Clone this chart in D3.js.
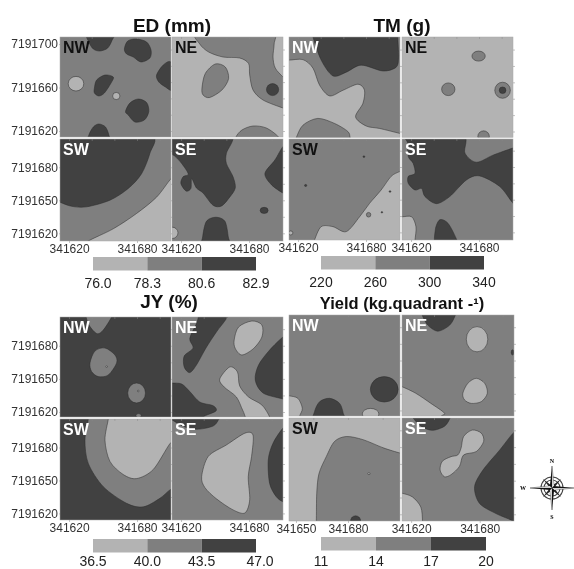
<!DOCTYPE html>
<html>
<head>
<meta charset="utf-8">
<script src="https://cdn.jsdelivr.net/npm/d3@7"></script>
<style>
  html, body { margin: 0; padding: 0; background: #fff; overflow: hidden; }
  svg { display: block; filter: blur(0.55px); }
  text { font-family: "Liberation Sans", Arial, sans-serif; }
  .tick text { font-size: 12px; fill: #333; }
</style>
</head>
<body>
<div id="chart"></div>
<script>
// every region: [level, outline] or [level, cx, cy, rx, ry] for the round spots
// outlines are in percent of the quadrant, measured from its NW corner
var levelColors = ['#b3b3b3', '#7f7f7f', '#414141'];

var edLegend = [76.0, 78.3, 80.6, 82.9];
var tmLegend = [220, 260, 300, 340];
var jyLegend = [36.5, 40.0, 43.5, 47.0];
var yieldLegend = [11, 14, 17, 20];

var edNW = [
  [2, [[25,-3],[26,5],[30,12],[36,14],[43,11],[47,3],[48,-3]]],
  [2, [[58,12],[61,4],[69,2],[78,5],[82,13],[81,21],[73,25],[66,20],[60,17]]],
  [2, [[87,38],[93,28],[100,25],[105,40],[101,53],[95,50],[89,45]]],
  [2, [[31,51],[33,43],[40.5,38],[48,40],[46,46],[40,56],[35,59],[31,56]]],
  [2, [[59,74.5],[63,66],[70.5,62],[78,65.5],[80,74.5],[76,83],[67.5,85],[61.5,78]]],
  [2, [[26,98],[30,90],[35,87],[41,90],[44,98],[44,104],[26,104]]],
  [0, 14.4, 46.7, 7, 7.3],
  [0, 50.7, 59, 3.3, 3.6]
];
var edNE = [
  [1, [[22,-4],[25,7],[33,15],[46,20],[61,21],[69,26.5],[70,38],[73,53],[82,63],[100,71],[105,72],[105,45],[100,40],[93,31],[91,20],[92,7],[91,-4],[60,-6]]],
  [1, [[27,51],[30,36.5],[39,27],[48,30],[51,41.5],[45,53],[34,60.5],[28,58]]],
  [2, 90.6, 52.6, 5.5, 6],
  [1, [[57.6,100],[63,93],[73,89],[85,91],[96,100],[96,106],[58,106]]]
];
var edSW = [
  [2, [[83,-3],[81,14],[73.5,34],[61.5,48.5],[45,60],[24,66.5],[10.5,66],[0,62],[-5,60],[-5,-5],[40,-8]]],
  [0, [[100,39],[87,57],[69,73],[48,88],[25.5,100],[24,104],[105,104],[105,38]]]
];
var edSE = [
  [2, [[54,-3],[49,14],[49,24],[55,37],[57,48],[52,57],[44.7,65.6],[37,65],[28,53],[22,48],[17.7,38.7],[17,48.5],[12.6,51],[8,43.6],[10,37],[14.7,34.4],[8.7,24],[2.7,17],[0,15],[-5,10],[-5,-5],[25,-6]]],
  [2, [[100,7.5],[92.7,20.6],[83.7,33.8],[89.7,45],[100,53],[106,55],[106,5]]],
  [2, 83, 70, 3.6, 3],
  [2, [[27.6,96],[31,80.7],[39.6,76.7],[47.7,80.7],[50.7,96],[51,105],[28,105]]],
  [0, 0, 92, 5.4, 5.6]
];

var tmNW = [
  [1, [[0,23],[12.6,22.5],[21.6,31],[27.6,48],[36.6,58.6],[48.6,53],[62,47],[68,53],[66.6,66],[60,79.5],[69.6,88.6],[81.6,91],[100,96],[106,98],[106,-5],[-5,-5],[-5,22]]],
  [2, [[21.6,0],[29,23],[39.6,38.7],[51.6,35],[65,28],[84.6,33.8],[96.6,30],[98.7,20],[98,0],[98,-5],[22,-5]]],
  [1, [[6.6,100],[12.6,87.7],[26,81],[41,86],[53,94],[55,100],[56,106],[5,106]]]
];
var tmNE = [
  [1, 69, 19, 6, 5],
  [1, 41.7, 52, 6, 6.3],
  [1, 90.6, 53, 7, 8],
  [2, 90.6, 53, 3, 3.3],
  [1, 73.5, 99, 5.2, 5.6]
];
var tmSW = [
  [0, [[99.6,32.3],[92,37],[83,50.5],[72.6,63.7],[63.6,77],[51.6,91.7],[39.6,86.8],[29,86.8],[23,100],[22,106],[106,106],[106,30]]],
  [1, 71.7, 75, 2, 2.3],
  [2, 15, 46, 1, 1],
  [2, 67.5, 17.5, 0.8, 0.8],
  [2, 91, 52, 0.8, 0.8],
  [2, 83.7, 72.6, 0.7, 0.7],
  [0, 1.5, 93, 2, 2]
];
var tmSE = [
  [2, [[54,-5],[56.7,14],[67,23],[82,16],[99.6,9],[106,7],[106,68],[99.6,63],[88,47],[70,36.6],[58,40.6],[43,57],[31,64],[20.7,57],[17.7,49],[11.7,50.5],[5.7,44],[5.7,37],[11.7,34],[10,24],[5.7,17.5],[5,4],[5,-5]]],
  [0, [[0,77],[8.7,77],[12.6,87],[11.7,100],[11,106],[-5,106],[-5,76]]],
  [2, [[30,90],[34,80],[41.4,83.4],[48.6,98],[50,106],[31,106]]]
];

var jyNW = [
  [1, [[25.5,6.6],[33,16.5],[39,13],[46.5,0],[47,-5],[25,-5]]],
  [1, [[27,46],[31.5,34],[40.5,31],[49.5,38],[51,46],[43.5,58],[34.5,59.6],[28.5,54.6]]],
  [0, 42, 49.6, 0.8, 0.8],
  [1, 69, 76, 8, 10],
  [0, 70.5, 74, 0.8, 0.8],
  [1, 70.8, 98.6, 2.4, 2]
];
var jyNE = [
  [2, [[49,1.6],[50,-5],[24,-5],[23.7,0],[22,6.6],[16,21.5],[19,31],[11,39],[11,50],[16,55.6],[22,48],[30.6,31],[40,15]]],
  [0, [[56,23],[60,10],[72,4],[81,8],[81,20],[73.5,31.5],[63,38],[57,31.5]]],
  [2, [[100,20],[88,33],[78,48],[75,63],[82,76],[100,82],[106,84],[106,18]]],
  [0, [[43,62],[52,50],[59,55],[61,69],[69,80],[81,88],[88,100],[88,106],[70,106],[64,94],[58,80],[47,70]]],
  [2, [[0,66],[8.7,67],[16,74.5],[25,85],[37,88.7],[39.6,94],[28,100],[28,106],[-5,106],[-5,65]]]
];
var jySW = [
  [1, [[25.5,0],[22.5,21],[25.5,44],[39,67],[60,83.5],[75,87],[90,78.5],[99.3,70],[106,68],[106,-5],[25,-5]]],
  [0, [[43.5,0],[40.5,21],[45,42],[57,55],[69,59],[84,50],[99.3,24],[106,20],[106,-5],[43,-5]]]
];
var jySE = [
  [2, [[41.7,1],[37,7],[25,10],[14.7,9],[4,3.6],[-3,-5],[42,-5]]],
  [0, [[26.7,57],[32.7,37],[49,25.7],[65.7,14],[73,16],[71.7,37],[68.7,57],[70,80],[65.7,93],[55,90],[40,79],[29.7,68]]],
  [2, [[100,9],[91,24],[86.7,40.6],[88,64],[94,77],[100,82],[106,84],[106,7]]]
];

var yieldNW = [
  [0, [[0,80],[8,82.5],[12,92.4],[9.6,100],[9,106],[-5,106],[-5,79]]],
  [2, [[23,95.7],[27.6,85.8],[36.6,82.5],[45.6,87.5],[49,97.7],[50,106],[23,106]]],
  [2, 85.8, 73.6, 12.5, 12.6],
  [0, 73.5, 98, 7.5, 5.5]
];
var yieldNE = [
  [2, [[18,0],[23,10],[32,16],[42.6,10],[47.7,0],[48,-5],[18,-5]]],
  [0, 67, 24, 9.6, 12.5],
  [0, [[54.3,77.5],[58.8,67.6],[66.3,62.7],[73.8,67.6],[76.2,77.5],[70.8,85.8],[61.8,87.5],[55.8,84]]],
  [2, 98.7, 37, 1.2, 2.6],
  [0, [[0,71],[12.3,77.5],[25.8,87.5],[37.8,97],[35,100],[30,106],[-5,106],[-5,70]]]
];
var yieldSW = [
  [1, [[100,34],[85,29],[66.6,21],[51.6,18],[41,22.8],[33.6,37.5],[27,54],[25,73],[24.6,100],[24,106],[106,106],[106,35]]],
  [2, 60, 100, 4.5, 5],
  [0, 72, 54, 1, 1]
];
var yieldSE = [
  [2, [[10,0],[17,8],[27,12],[38,8],[43,0],[44,-5],[10,-5]]],
  [0, [[34,50.5],[36,42],[43.8,37.5],[49.8,35.9],[52.8,29],[55,18],[62.7,11.7],[70.8,14.7],[72.9,22.8],[66.3,32.6],[55,35.9],[51.3,47],[43.8,55],[37.8,57]]],
  [2, [[99.3,14.7],[87.3,31],[72.3,50.5],[64.8,66.8],[69.3,83],[84.3,93],[99.3,100],[106,106],[106,12]]],
  [0, [[0,73],[9.3,76.6],[16.8,86.4],[18.3,100],[18,106],[-5,106],[-5,72]]]
];

var northTicksTop = [7191700, 7191660, 7191620];
var northTicks = [7191680, 7191650, 7191620];
var eastTicks = [341620, 341680];
var eastTicksYield = [341650, 341680];
var compassLetters = ['N', 'W', 'S'];

var width = 574, height = 569;
var svg = d3.select('#chart').append('svg')
    .attr('width', width)
    .attr('height', height);

var clipCount = 0;

var drawQuadrant = function(q) {
  var g = svg.append('g');
  var x = d3.scaleLinear().domain([0, 100]).range([q.left, q.right]);
  var y = d3.scaleLinear().domain([0, 100]).range([q.top, q.bottom]);
  var clipId = 'clip' + (clipCount++);

  g.append('clipPath').attr('id', clipId)
    .append('rect')
      .attr('x', q.left).attr('y', q.top)
      .attr('width', q.right - q.left).attr('height', q.bottom - q.top);

  var body = g.append('g').attr('clip-path', 'url(#' + clipId + ')');
  body.append('rect')
      .attr('x', q.left).attr('y', q.top)
      .attr('width', q.right - q.left).attr('height', q.bottom - q.top)
      .attr('fill', levelColors[q.base]);

  var outline = d3.line()
      .x(function(d) { return x(d[0]); })
      .y(function(d) { return y(d[1]); })
      .curve(d3.curveCardinalClosed.tension(0.1));

  q.regions.forEach(function(r) {
    if (typeof r[1] === 'number') {
      body.append('ellipse')
          .attr('cx', x(r[1])).attr('cy', y(r[2]))
          .attr('rx', x(r[3]) - x(0)).attr('ry', y(r[4]) - y(0))
          .attr('fill', levelColors[r[0]])
          .attr('stroke', '#2a2a2a').attr('stroke-width', 0.5);
    } else {
      body.append('path')
          .attr('d', outline(r[1]))
          .attr('fill', levelColors[r[0]])
          .attr('stroke', '#2a2a2a').attr('stroke-width', 0.5);
    }
  });

  // border and the faint minor ticks round the quadrant
  g.append('rect')
      .attr('x', q.left).attr('y', q.top)
      .attr('width', q.right - q.left).attr('height', q.bottom - q.top)
      .attr('fill', 'none').attr('stroke', '#a8a8a8').attr('stroke-width', 0.5);

  var east = d3.scaleLinear().domain(q.eastDomain).range([q.left, q.right]);
  var north = d3.scaleLinear().domain(q.northDomain).range([q.bottom, q.top]);
  var minorE = d3.range(341620, 341711, 20);
  var minorN = d3.range(7191620, 7191705, 15);

  var faint = function(sel) {
    sel.select('.domain').remove();
    sel.selectAll('line').attr('stroke', '#8a8a8a').attr('stroke-width', 0.5);
  };
  g.append('g').attr('transform', 'translate(0,' + q.top + ')')
      .call(d3.axisTop(east).tickValues(minorE.filter(function(d) { return d >= q.eastDomain[0]; })).tickSize(-2).tickFormat(''))
      .call(faint);
  g.append('g').attr('transform', 'translate(' + q.right + ',0)')
      .call(d3.axisRight(north).tickValues(minorN).tickSize(2).tickFormat(''))
      .call(faint);

  if (q.northLabels) {
    g.append('g').attr('transform', 'translate(' + q.left + ',0)')
        .call(d3.axisLeft(north).tickValues(q.northLabels).tickSize(1).tickPadding(1).tickFormat(d3.format('d')))
        .call(faint);
  }
  if (q.eastLabels) {
    g.append('g').attr('transform', 'translate(0,' + q.bottom + ')')
        .call(d3.axisBottom(east).tickValues(q.eastLabels).tickSize(2).tickPadding(1).tickFormat(d3.format('d')))
        .call(faint);
  }

  svg.append('text')
      .attr('x', q.left + 3)
      .attr('y', q.top + 16)
      .attr('font-size', 16)
      .attr('font-weight', 'bold')
      .attr('fill', q.labelColor)
      .text(q.name);
};

var drawLegend = function(values, left, right, top, labelY, labelX) {
  var scale = d3.scaleLinear()
      .domain([values[0], values[values.length - 1]])
      .range([left, right]);
  var g = svg.append('g');
  d3.pairs(values).forEach(function(p, i) {
    g.append('rect')
        .attr('x', scale(p[0])).attr('y', top)
        .attr('width', scale(p[1]) - scale(p[0])).attr('height', 13.5)
        .attr('fill', levelColors[i]);
  });
  g.selectAll('text').data(values).enter().append('text')
      .attr('x', function(d, i) { return scale(d) + labelX[i]; })
      .attr('y', labelY)
      .attr('text-anchor', 'middle')
      .attr('font-size', 14)
      .attr('fill', '#222')
      .text(function(d) { return d3.format(values[0] % 1 || values[1] % 1 ? '.1f' : 'd')(d); });
};

var drawMap = function(m) {
  var names = ['NW', 'NE', 'SW', 'SE'];
  var regions = m.regions;
  names.forEach(function(name, i) {
    var col = i % 2, row = i < 2 ? 0 : 1;
    drawQuadrant({
      name: name,
      base: m.bases[i],
      regions: regions[i],
      labelColor: m.labelColors[i],
      left: m.cols[col][0], right: m.cols[col][1],
      top: m.rows[row][0], bottom: m.rows[row][1],
      eastDomain: (m.eastDomains && m.eastDomains[i]) || [341612, 341710],
      northDomain: m.norths[row],
      northLabels: col === 0 && m.northLabels ? m.northLabels[row] : null,
      eastLabels: row === 1 ? m.eastLabels[col] : null
    });
  });
  svg.append('text')
      .attr('x', m.titleX).attr('y', m.titleY)
      .attr('text-anchor', 'middle')
      .attr('font-size', m.titleSize)
      .attr('font-weight', 'bold')
      .attr('fill', '#111')
      .text(m.title);
};

drawMap({
  title: 'ED (mm)', titleX: 172, titleY: 32, titleSize: 19,
  cols: [[60, 171], [172, 283]], rows: [[37, 137], [139, 241]],
  norths: [[7191614.5, 7191706.5], [7191613, 7191705.7]],
  northLabels: [northTicksTop, northTicks],
  eastLabels: [eastTicks, eastTicks],
  bases: [1, 0, 1, 1],
  labelColors: ['#111', '#111', '#fff', '#fff'],
  regions: [edNW, edNE, edSW, edSE]
});
drawLegend(edLegend, 93, 256, 257, 288, [5, 0, 0, 0]);

drawMap({
  title: 'TM (g)', titleX: 402, titleY: 32, titleSize: 19,
  cols: [[289, 400], [402, 513]], rows: [[37, 137.5], [139, 240]],
  norths: [[7191614.5, 7191706.5], [7191613, 7191705.7]],
  northLabels: null,
  eastLabels: [eastTicks, eastTicks],
  bases: [0, 0, 1, 1],
  labelColors: ['#fff', '#111', '#111', '#fff'],
  regions: [tmNW, tmNE, tmSW, tmSE]
});
drawLegend(tmLegend, 321, 484, 256, 287, [0, 0, 0, 0]);

drawMap({
  title: 'JY (%)', titleX: 169, titleY: 308, titleSize: 19,
  cols: [[60, 171], [172, 283]], rows: [[317, 417], [419, 520]],
  norths: [[7191615.5, 7191706], [7191614, 7191706]],
  northLabels: [northTicks, northTicks],
  eastLabels: [eastTicks, eastTicks],
  bases: [2, 1, 2, 1],
  labelColors: ['#fff', '#fff', '#fff', '#fff'],
  regions: [jyNW, jyNE, jySW, jySE]
});
drawLegend(jyLegend, 93, 256, 539, 565.8, [0, 0, 0, 4]);

drawMap({
  title: 'Yield (kg.quadrant -\u00b9)', titleX: 402, titleY: 309, titleSize: 16.5,
  cols: [[289, 400], [402, 514]], rows: [[315, 416], [418, 521]],
  norths: [[7191615, 7191706], [7191614, 7191706]],
  northLabels: null,
  eastDomains: [[341646, 341710], null, [341646, 341710], null],
  eastLabels: [eastTicksYield, eastTicks],
  bases: [1, 1, 0, 1],
  labelColors: ['#fff', '#fff', '#111', '#fff'],
  regions: [yieldNW, yieldNE, yieldSW, yieldSE]
});
drawLegend(yieldLegend, 321, 486, 537, 565.8, [0, 0, 0, 0]);

// compass rose
var compass = svg.append('g').attr('transform', 'translate(552,488)');
var spike = d3.lineRadial()
    .angle(function(d) { return d[0] * Math.PI / 180; })
    .radius(function(d) { return d[1]; });
[8, 11].forEach(function(r) {
  compass.append('circle').attr('r', r)
      .attr('fill', 'none').attr('stroke', '#444').attr('stroke-width', 1.1);
});
[45, 135, 225, 315].forEach(function(a) {
  compass.append('path').attr('d', spike([[a, 13], [a + 45, 2], [a - 45, 2]]) + 'Z').attr('fill', '#222');
});
[0, 90, 180, 270].forEach(function(a) {
  compass.append('path').attr('d', spike([[a, 22], [a + 45, 3], [0, 0]]) + 'Z').attr('fill', '#fff').attr('stroke', '#222').attr('stroke-width', 0.4);
  compass.append('path').attr('d', spike([[a, 22], [a - 45, 3], [0, 0]]) + 'Z').attr('fill', '#111');
});
var letterX = d3.scaleOrdinal().domain(compassLetters).range([0, -29, 0]);
var letterY = d3.scaleOrdinal().domain(compassLetters).range([-25, 2, 31]);
compass.selectAll('.letter').data(compassLetters).enter().append('text')
    .attr('class', 'letter')
    .attr('x', function(d) { return letterX(d); })
    .attr('y', function(d) { return letterY(d); })
    .attr('text-anchor', 'middle')
    .attr('font-size', 6)
    .attr('font-weight', 'bold')
    .style('font-family', '"Liberation Serif", serif')
    .text(function(d) { return d; });
</script>
</body>
</html>
